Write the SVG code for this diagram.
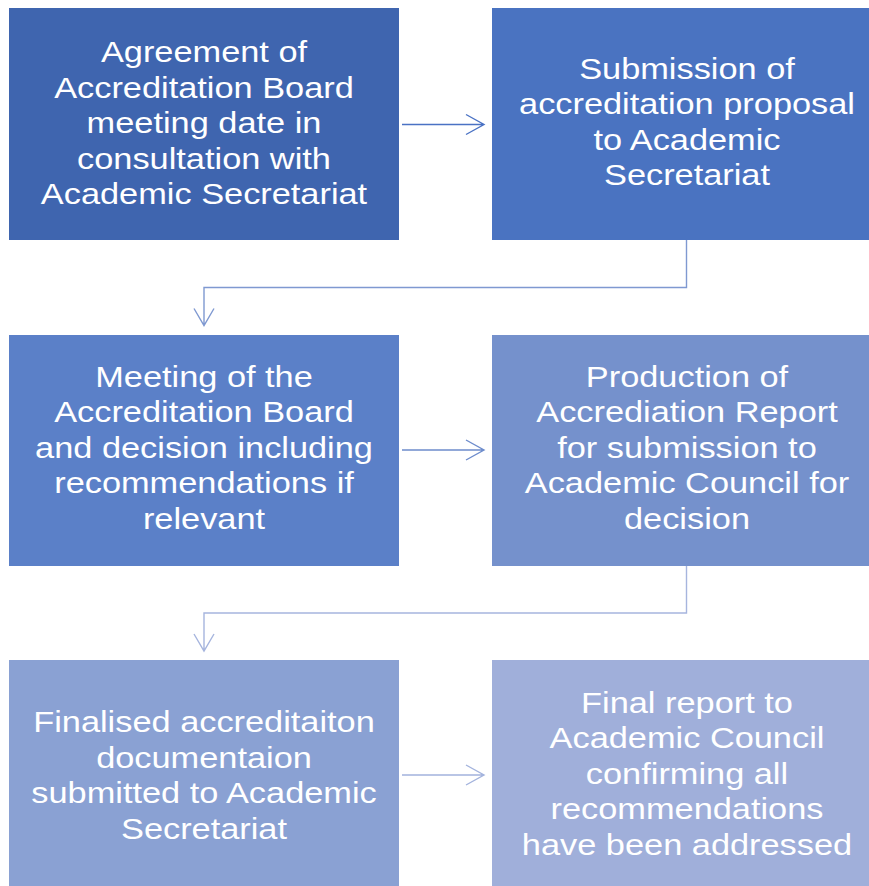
<svg xmlns="http://www.w3.org/2000/svg" width="869" height="886" viewBox="0 0 869 886">
<style>
.t{font-family:"Liberation Sans",Arial,sans-serif;font-size:30px;fill:#ffffff;text-anchor:middle}
.c{fill:none;stroke-width:1.4}
</style>
<rect width="869" height="886" fill="#ffffff"/>
<g id="connectors">
<path class="c" stroke="#4a72c4" d="M402,124.5H484M466,114.5L484,124.5L466,134.5"/>
<path class="c" stroke="#7f99d1" d="M686.5,240V287.5H204V325.5M194,308.5L204,325.5L214,308.5"/>
<path class="c" stroke="#6d8ccc" d="M402,450H484M466,440L484,450L466,460"/>
<path class="c" stroke="#a6b5de" d="M686.5,566V613H204V651M194,634L204,651L214,634"/>
<path class="c" stroke="#a3b3dd" d="M402,775H484M466,765L484,775L466,785"/>
</g>
<g id="n1">
<rect x="9" y="8" width="390" height="232" fill="#3f65af"/>
<g transform="translate(204,0) scale(1.145,1)"><text class="t"><tspan x="0" y="62.5">Agreement of</tspan><tspan x="0" y="98">Accreditation Board</tspan><tspan x="0" y="133.5">meeting date in</tspan><tspan x="0" y="169">consultation with</tspan><tspan x="0" y="204.5">Academic Secretariat</tspan></text></g>
</g>
<g id="n2">
<rect x="492" y="8" width="390" height="232" fill="#4a73c1"/>
<g transform="translate(687,0) scale(1.145,1)"><text class="t"><tspan x="0" y="78.8">Submission of</tspan><tspan x="0" y="114.3">accreditation proposal</tspan><tspan x="0" y="149.8">to Academic</tspan><tspan x="0" y="185.3">Secretariat</tspan></text></g>
</g>
<g id="n3">
<rect x="9" y="335" width="390" height="231" fill="#5b80c8"/>
<g transform="translate(204,0) scale(1.145,1)"><text class="t"><tspan x="0" y="387">Meeting of the</tspan><tspan x="0" y="422.5">Accreditation Board</tspan><tspan x="0" y="458">and decision including</tspan><tspan x="0" y="493.5">recommendations if</tspan><tspan x="0" y="529">relevant</tspan></text></g>
</g>
<g id="n4">
<rect x="492" y="335" width="390" height="231" fill="#7591cc"/>
<g transform="translate(687,0) scale(1.145,1)"><text class="t"><tspan x="0" y="387">Production of</tspan><tspan x="0" y="422.5">Accrediation Report</tspan><tspan x="0" y="458">for submission to</tspan><tspan x="0" y="493.5">Academic Council for</tspan><tspan x="0" y="529">decision</tspan></text></g>
</g>
<g id="n5">
<rect x="9" y="660" width="390" height="232" fill="#8aa1d3"/>
<g transform="translate(204,0) scale(1.145,1)"><text class="t"><tspan x="0" y="732.5">Finalised accreditaiton</tspan><tspan x="0" y="768">documentaion</tspan><tspan x="0" y="803.5">submitted to Academic</tspan><tspan x="0" y="839">Secretariat</tspan></text></g>
</g>
<g id="n6">
<rect x="492" y="660" width="390" height="232" fill="#a0afda"/>
<g transform="translate(687,0) scale(1.145,1)"><text class="t"><tspan x="0" y="713">Final report to</tspan><tspan x="0" y="748.5">Academic Council</tspan><tspan x="0" y="784">confirming all</tspan><tspan x="0" y="819.5">recommendations</tspan><tspan x="0" y="855">have been addressed</tspan></text></g>
</g>
</svg>
